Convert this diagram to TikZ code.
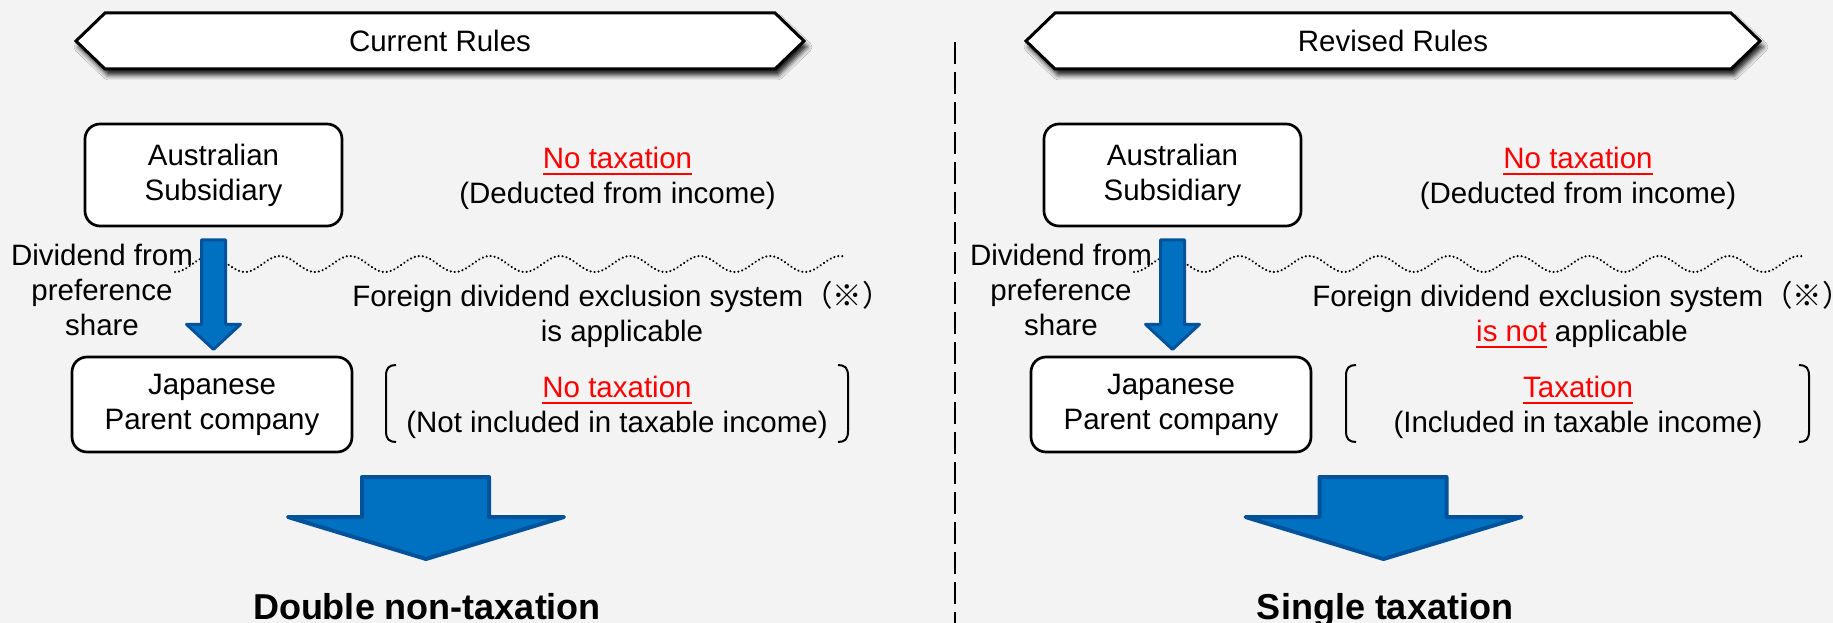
\documentclass[tikz,border=0pt]{standalone}
\usepackage{fontspec}
\setmainfont{Liberation Sans}
\newfontfamily\cjkfont{Noto Sans CJK JP}
\usetikzlibrary{calc,shadows.blur}
\definecolor{bgcol}{RGB}{243,243,243}
\definecolor{arrowfill}{RGB}{0,112,192}
\definecolor{arrowline}{RGB}{0,82,155}
% red text with a red rule underneath
\newcommand\redul[1]{{\color{red}\setbox0\hbox{#1}\rlap{\rule[-6.5pt]{\wd0}{2pt}}\box0}}
\newcommand\refmark{\smash{\cjkfont （※）}}

\begin{document}
\begin{tikzpicture}[x=1pt,y=-1pt,
  txt/.style={font=\fontsize{29.5}{35}\selectfont, align=center, inner sep=0pt},
  entity/.style={draw=black, line width=2.7pt, rounded corners=15pt, fill=white,
    align=center, font=\fontsize{29.5}{35}\selectfont, inner sep=0pt},
  banner/.style={draw=black, line width=3pt, fill=white, line join=miter,
    blur shadow={shadow xshift=3pt, shadow yshift=-6pt, shadow blur radius=5pt, shadow opacity=90}},
  flowarrow/.style={fill=arrowfill, draw=arrowline, line width=3pt, line join=round},
  bigarrow/.style={fill=arrowfill, draw=arrowline, line width=4pt, line join=round},
  divider/.style={line width=2.2pt, dash pattern=on 22pt off 8pt},
  wave/.style={line width=2.4pt, line cap=round, dash pattern=on 0.01pt off 4pt},
  bracket/.style={line width=2pt},
  result/.style={font=\bfseries\fontsize{36}{40}\selectfont, inner sep=0pt}
]
% canvas
\fill[bgcol] (0,0) rectangle (1833,623);
\useasboundingbox (0,0) rectangle (1833,623);

% ---------- left panel: current rules ----------
\draw[banner] (76,41) -- (105,13) -- (775,13) -- (804,41) -- (775,69) -- (105,69) -- cycle;
\node[txt] (Lhdr) at (440,41) {Current Rules};

\node[entity, minimum width=257pt, minimum height=102pt] (Lau) at (213.5,175) {Australian\\Subsidiary};
\node[entity, minimum width=280pt, minimum height=95pt] (Ljp) at (212,404.5) {Japanese\\Parent company};

\node[txt, anchor=north] (Ltop) at (617.5,147) {\redul{No taxation}\\(Deducted from income)};

\draw[wave] plot[domain=175:843, samples=300, smooth] (\x,{264+8*cos(((\x-175)/70)*360)});
\node[txt, anchor=north] (Ldiv) at (102,243.5) {Dividend from\\preference\\share};
\draw[flowarrow, shift={(Lau.south)}] (-12,12.5) -- (12,12.5) -- (12,97) -- (27,97) -- (0,122) -- (-27,97) -- (-12,97) -- cycle;

\node[txt, anchor=north] (Lfor) at (622,284.5) {Foreign dividend exclusion system\refmark\\is applicable};

\draw[bracket] (396,365) .. controls (389,365) and (386,368) .. (386,376) -- (386,431) .. controls (386,439) and (389,442) .. (396,442);
\draw[bracket] (838,365) .. controls (845,365) and (848,368) .. (848,376) -- (848,431) .. controls (848,439) and (845,442) .. (838,442);
\node[txt, anchor=north] (Lbrt) at (617,375.9) {\redul{No taxation}\\(Not included in taxable income)};

\draw[bigarrow] (362,477) -- (489,477) -- (489,517) -- (564,517) -- (426,559) -- (288,517) -- (362,517) -- cycle;
\node[result, anchor=base] (Lres) at (427,619) {Double non-taxation};

% ---------- divider ----------
\draw[divider] (955,42) -- (955,623);

% ---------- right panel: revised rules ----------
\draw[banner] (1026,41) -- (1055,13) -- (1731,13) -- (1760,41) -- (1731,69) -- (1055,69) -- cycle;
\node[txt] (Rhdr) at (1393,41) {Revised Rules};

\node[entity, minimum width=257pt, minimum height=102pt] (Rau) at (1172.5,175) {Australian\\Subsidiary};
\node[entity, minimum width=280pt, minimum height=95pt] (Rjp) at (1171,404.5) {Japanese\\Parent company};

\node[txt, anchor=north] (Rtop) at (1578,147) {\redul{No taxation}\\(Deducted from income)};

\draw[wave] plot[domain=1134:1802, samples=300, smooth] (\x,{264+8*cos(((\x-1134)/70)*360)});
\node[txt, anchor=north] (Rdiv) at (1061,243.5) {Dividend from\\preference\\share};
\draw[flowarrow, shift={(Rau.south)}] (-12,12.5) -- (12,12.5) -- (12,97) -- (27,97) -- (0,122) -- (-27,97) -- (-12,97) -- cycle;

\node[txt, anchor=north] (Rfor) at (1582,284.5) {Foreign dividend exclusion system\refmark\\\redul{is not} applicable};

\draw[bracket] (1356,365) .. controls (1349,365) and (1346,368) .. (1346,376) -- (1346,431) .. controls (1346,439) and (1349,442) .. (1356,442);
\draw[bracket] (1799,365) .. controls (1806,365) and (1809,368) .. (1809,376) -- (1809,431) .. controls (1809,439) and (1806,442) .. (1799,442);
\node[txt, anchor=north] (Rbrt) at (1578,375.9) {\redul{Taxation}\\(Included in taxable income)};

\draw[bigarrow] (1319.5,477) -- (1446.5,477) -- (1446.5,517) -- (1521.5,517) -- (1383.5,559) -- (1245.5,517) -- (1319.5,517) -- cycle;
\node[result, anchor=base] (Rres) at (1385,619) {Single taxation};
\end{tikzpicture}
\end{document}
